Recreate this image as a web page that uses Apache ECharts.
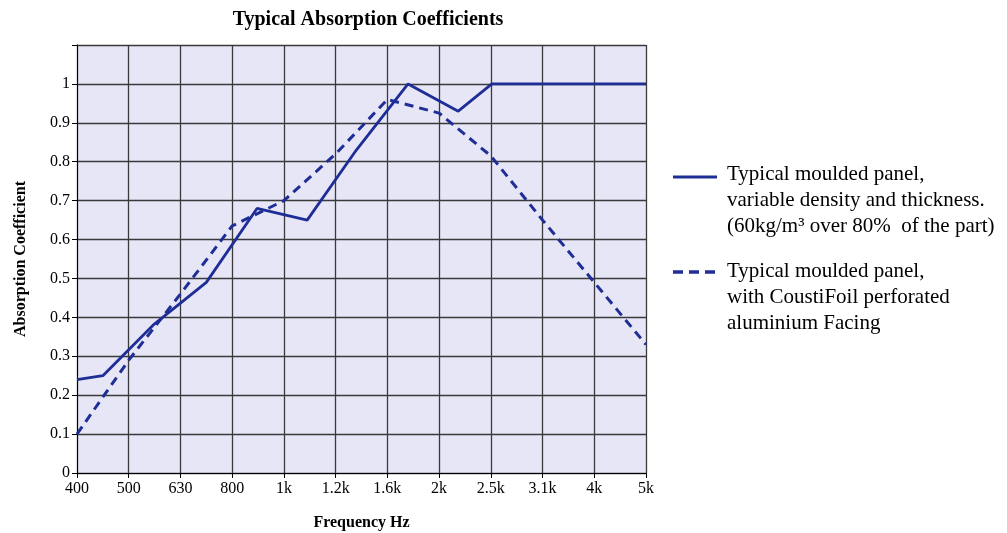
<!DOCTYPE html>
<html>
<head>
<meta charset="utf-8">
<script src="https://cdn.jsdelivr.net/npm/echarts@6/dist/echarts.min.js"></script>
<style>
html,body{margin:0;padding:0;background:#fff;}
#chart{width:1007px;height:533px;}
</style>
</head>
<body>
<div id="chart"></div>
<script>
// Frequency band labels (1/3 octave nominal)
const categories = ['400','500','630','800','1k','1.2k','1.6k','2k','2.5k','3.1k','4k','5k'];
const yTickLabels = ['0','0.1','0.2','0.3','0.4','0.5','0.6','0.7','0.8','0.9','1'];

// Series 1: typical moulded panel (solid) – band position / value
const solidBand   = [0,    0.5,  1.47, 2.5,  3.48, 4.45, 5.4,  6.4,  7.37, 8.02, 11];
const solidValues = [0.24, 0.25, 0.38, 0.49, 0.68, 0.65, 0.83, 1.00, 0.93, 1.00, 1.00];

// Series 2: with CoustiFoil facing (dashed)
const dashedBand   = [0,    1,    2,    3,     4,    5,    6,    7,     8,     9,    10,   11];
const dashedValues = [0.10, 0.29, 0.46, 0.635, 0.70, 0.82, 0.96, 0.925, 0.815, 0.65, 0.49, 0.33];

const seriesNames = [
  'Typical moulded panel,\nvariable density and thickness.\n(60kg/m\u00B3 over 80%  of the part)',
  'Typical moulded panel,\nwith CoustiFoil perforated\naluminium Facing'
];

const lineColor = '#1f2e96';
const serif = '"Liberation Serif", "DejaVu Serif", serif';

const chart = echarts.init(document.getElementById('chart'), null, {renderer: 'canvas'});
chart.setOption({
  animation: false,
  backgroundColor: '#ffffff',
  title: {
    text: 'Typical Absorption Coefficients',
    left: 363, top: 5, textAlign: 'center',
    textStyle: {fontFamily: serif, fontWeight: 'bold', fontSize: 20, color: '#000'}
  },
  grid: {
    left: 77, right: 361, top: 45, bottom: 60,
    outerBoundsMode: 'none', containLabel: false,
    show: true, backgroundColor: '#e6e6f6', borderWidth: 0
  },
  xAxis: {
    type: 'value', min: 0, max: categories.length - 1, interval: 1,
    name: 'Frequency Hz', nameLocation: 'middle', nameGap: 42,
    nameTextStyle: {fontFamily: serif, fontWeight: 'bold', fontSize: 16, color: '#000'},
    axisLine: {show: true, lineStyle: {color: '#000', width: 1}},
    axisTick: {show: true, length: 5, lineStyle: {color: '#000'}},
    axisLabel: {
      fontFamily: serif, fontSize: 16, color: '#000', margin: 8,
      formatter: v => categories[Math.round(v)] || ''
    },
    splitLine: {show: true, lineStyle: {color: '#3a3a3a', width: 1.3}}
  },
  yAxis: {
    type: 'value', min: 0, max: 1.1, interval: 0.1,
    name: 'Absorption Coefficient', nameLocation: 'middle', nameGap: 48, nameRotate: 90,
    nameTextStyle: {fontFamily: serif, fontWeight: 'bold', fontSize: 16, color: '#000'},
    axisLine: {show: true, lineStyle: {color: '#000', width: 1}},
    axisTick: {show: true, length: 5, lineStyle: {color: '#000'}},
    axisLabel: {
      fontFamily: serif, fontSize: 16, color: '#000', margin: 7,
      formatter: v => { const i = Math.round(v * 10); return i < yTickLabels.length ? yTickLabels[i] : ''; }
    },
    splitLine: {show: true, lineStyle: {color: '#3a3a3a', width: 1.3}}
  },
  series: [
    {
      name: seriesNames[0], type: 'line', symbol: 'none',
      data: solidBand.map((b, i) => [b, solidValues[i]]),
      lineStyle: {color: lineColor, width: 2.8}, z: 3
    },
    {
      name: seriesNames[1], type: 'line', symbol: 'none',
      data: dashedBand.map((b, i) => [b, dashedValues[i]]),
      lineStyle: {color: lineColor, width: 3, type: [9, 6]}, z: 3
    }
  ],
  graphic: [
    {type: 'line', shape: {x1: 673, y1: 177, x2: 717, y2: 177},
     style: {stroke: lineColor, lineWidth: 3}},
    {type: 'text', x: 727, y: 161,
     style: {text: seriesNames[0], font: '21px "Liberation Serif", serif', fill: '#000', lineHeight: 26, verticalAlign: 'top'}},
    {type: 'line', shape: {x1: 673, y1: 272, x2: 717, y2: 272},
     style: {stroke: lineColor, lineWidth: 3.5, lineDash: [10, 6]}},
    {type: 'text', x: 727, y: 258,
     style: {text: seriesNames[1], font: '21px "Liberation Serif", serif', fill: '#000', lineHeight: 26, verticalAlign: 'top'}}
  ]
});
</script>
</body>
</html>
